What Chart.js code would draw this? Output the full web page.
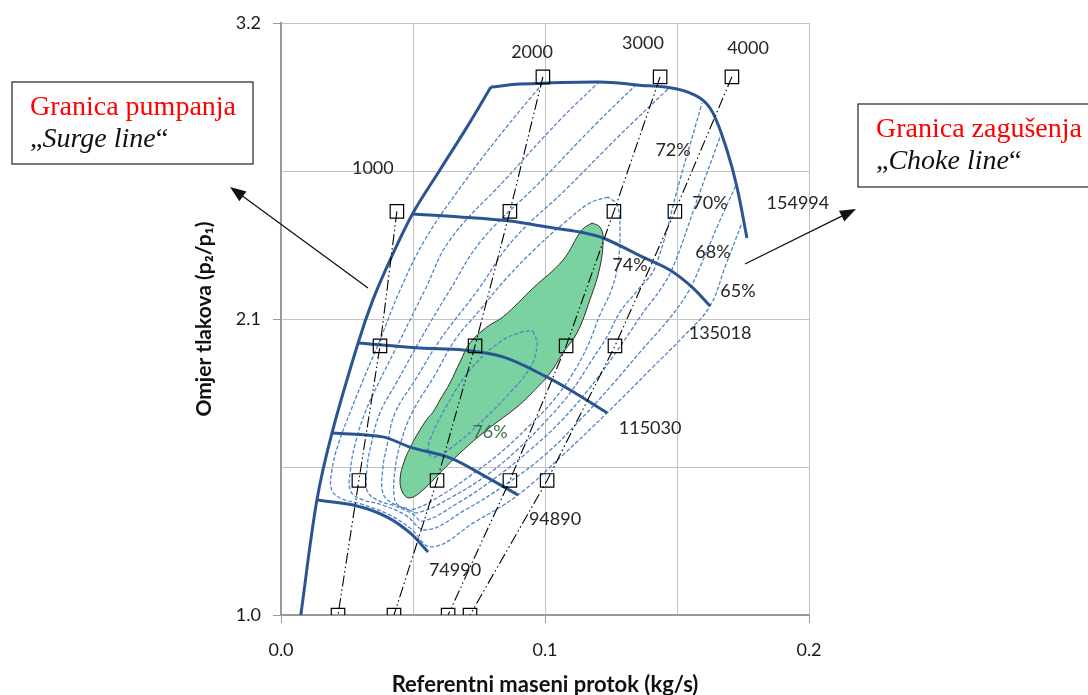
<!DOCTYPE html>
<html>
<head>
<meta charset="utf-8">
<script src="https://cdn.jsdelivr.net/npm/chart.js@4/dist/chart.umd.min.js"></script>
<style>
  html, body { margin: 0; padding: 0; background: #fff; }
</style>
</head>
<body>
<canvas id="map" width="1088" height="695"></canvas>
<script>
// osi
const xTicks = [0, 0.05, 0.1, 0.15, 0.2];
const xTickLabels = ['0.0', '', '0.1', '', '0.2'];
const yTicks = [1.0, 1.55, 2.1, 2.65, 3.2];
const yTickLabels = ['1.0', '', '2.1', '', '3.2'];

// granica pumpanja i linije konstantne brzine [protok kg/s, omjer tlakova]
const surgeLine = [[0.0075,1.000],[0.0136,1.427],[0.0193,1.676],[0.0292,2.011],[0.0348,2.171],[0.0413,2.319],[0.0500,2.494],[0.0602,2.654],[0.0705,2.814],[0.0795,2.962]];
const n154994 = [[0.0795,2.962],[0.0905,2.973],[0.1208,2.981],[0.1348,2.970],[0.1500,2.955],[0.1587,2.921],[0.1636,2.866],[0.1689,2.728],[0.1727,2.591],[0.1765,2.401]];
const n135018 = [[0.0500,2.490],[0.0678,2.479],[0.0867,2.464],[0.1008,2.442],[0.1133,2.423],[0.1220,2.401],[0.1371,2.330],[0.1473,2.282],[0.1561,2.215],[0.1625,2.148]];
const n115030 = [[0.0292,2.011],[0.0527,1.992],[0.0689,1.985],[0.0841,1.959],[0.1008,1.884],[0.1114,1.825],[0.1235,1.751]];
const n94890 = [[0.0197,1.676],[0.0386,1.662],[0.0489,1.624],[0.0640,1.584],[0.0765,1.520],[0.0898,1.446]];
const n74990 = [[0.0136,1.427],[0.0288,1.405],[0.0402,1.364],[0.0489,1.305],[0.0557,1.234]];

// linije s kvadratima
const line1000 = [[0.0439,2.5],[0.0375,2.0],[0.0295,1.5],[0.0216,1.0]];
const line2000 = [[0.0992,3.0],[0.0867,2.5],[0.0735,2.0],[0.0591,1.5],[0.0428,1.0]];
const line3000 = [[0.1436,3.0],[0.1261,2.5],[0.1080,2.0],[0.0867,1.5],[0.0633,1.0]];
const line4000 = [[0.1708,3.0],[0.1492,2.5],[0.1265,2.0],[0.1008,1.5],[0.0716,1.0]];

// izolinije korisnosti
const eff65 = [[0.0992,2.977],[0.0830,2.784],[0.0678,2.587],[0.0545,2.394],[0.0451,2.208],[0.0375,2.022],[0.0311,1.873],[0.0261,1.751],[0.0216,1.632],[0.0193,1.539],[0.0192,1.465],[0.0230,1.432],[0.0299,1.414],[0.0405,1.375],[0.0489,1.323],[0.0572,1.253],[0.0735,1.346],[0.0898,1.446],[0.1068,1.595],[0.1235,1.751],[0.1398,1.911],[0.1530,2.041],[0.1625,2.148],[0.1682,2.293],[0.1746,2.457]];
const eff68 = [[0.1208,2.984],[0.1057,2.840],[0.0848,2.617],[0.0640,2.394],[0.0545,2.208],[0.0451,2.022],[0.0375,1.873],[0.0318,1.751],[0.0280,1.632],[0.0263,1.539],[0.0263,1.462],[0.0305,1.430],[0.0380,1.410],[0.0470,1.372],[0.0549,1.316],[0.0697,1.390],[0.0848,1.483],[0.1000,1.595],[0.1133,1.725],[0.1254,1.855],[0.1360,1.977],[0.1473,2.104],[0.1542,2.200],[0.1587,2.293],[0.1655,2.449],[0.1727,2.605]];
const eff70 = [[0.1348,2.973],[0.1189,2.821],[0.0981,2.609],[0.0761,2.394],[0.0640,2.208],[0.0527,2.022],[0.0443,1.873],[0.0375,1.751],[0.0341,1.632],[0.0325,1.539],[0.0327,1.460],[0.0370,1.425],[0.0432,1.405],[0.0496,1.377],[0.0538,1.349],[0.0670,1.416],[0.0811,1.509],[0.0943,1.613],[0.1057,1.717],[0.1163,1.836],[0.1254,1.955],[0.1322,2.052],[0.1379,2.134],[0.1436,2.208],[0.1485,2.293],[0.1576,2.542],[0.1663,2.776]];
const eff72 = [[0.1466,2.955],[0.1284,2.784],[0.1076,2.579],[0.0879,2.394],[0.0746,2.208],[0.0602,2.022],[0.0508,1.873],[0.0432,1.751],[0.0402,1.632],[0.0385,1.539],[0.0387,1.450],[0.0425,1.414],[0.0475,1.396],[0.0519,1.380],[0.0648,1.439],[0.0780,1.520],[0.0894,1.613],[0.1000,1.717],[0.1095,1.825],[0.1178,1.948],[0.1239,2.041],[0.1284,2.126],[0.1352,2.208],[0.1417,2.293],[0.1511,2.617],[0.1595,2.903]];
const eff74 = [[0.1239,2.553],[0.1170,2.531],[0.1076,2.460],[0.0970,2.368],[0.0848,2.245],[0.0754,2.134],[0.0659,2.022],[0.0583,1.892],[0.0496,1.751],[0.0451,1.632],[0.0432,1.539],[0.0428,1.446],[0.0443,1.409],[0.0496,1.392],[0.0602,1.442],[0.0716,1.517],[0.0830,1.602],[0.0932,1.695],[0.1027,1.792],[0.1102,1.892],[0.1163,2.003],[0.1208,2.115],[0.1254,2.215],[0.1277,2.312],[0.1284,2.431],[0.1273,2.524],[0.1239,2.553]];
const eff77 = [[0.0955,2.055],[0.0970,2.003],[0.0943,1.918],[0.0848,1.806],[0.0746,1.706],[0.0659,1.632],[0.0583,1.587],[0.0557,1.606],[0.0572,1.669],[0.0629,1.780],[0.0716,1.911],[0.0830,2.015],[0.0913,2.052],[0.0955,2.055]];
// podrucje 76 %
const zone76 = [[0.1178,2.457],[0.1208,2.442],[0.1220,2.401],[0.1208,2.293],[0.1170,2.171],[0.1121,2.048],[0.1068,1.974],[0.1019,1.899],[0.0943,1.818],[0.0894,1.773],[0.0780,1.688],[0.0678,1.602],[0.0602,1.528],[0.0538,1.465],[0.0489,1.435],[0.0462,1.453],[0.0451,1.502],[0.0466,1.569],[0.0489,1.621],[0.0515,1.669],[0.0553,1.728],[0.0576,1.754],[0.0602,1.799],[0.0640,1.862],[0.0678,1.940],[0.0716,2.011],[0.0780,2.070],[0.0841,2.108],[0.0955,2.215],[0.1068,2.319],[0.1140,2.431],[0.1178,2.457]];

// natpisi na dijagramu [tekst, protok, omjer]
const mapLabels = [
  ['1000', 0.0348, 2.661], ['2000', 0.0951, 3.092], ['3000', 0.1371, 3.126], ['4000', 0.1769, 3.107],
  ['154994', 0.1958, 2.531], ['135018', 0.1663, 2.048], ['115030', 0.1398, 1.695],
  ['94890', 0.1038, 1.357], ['74990', 0.0659, 1.167],
  ['72%', 0.1485, 2.728], ['70%', 0.1625, 2.531], ['68%', 0.1636, 2.349], ['65%', 0.1731, 2.204],
  ['74%', 0.1322, 2.301], ['76%', 0.0792, 1.680]
];

const pts = arr => arr.map(([x, y]) => ({x, y}));

function speedSet(arr) {
  return { data: pts(arr), borderColor: '#2b5592', borderWidth: 3, pointRadius: 0, tension: 0.35 };
}
function effSet(arr) {
  return { data: pts(arr), borderColor: '#5283c9', borderWidth: 1.3, borderDash: [4, 2], pointRadius: 0, tension: 0.4 };
}
function markSet(arr) {
  return {
    data: pts(arr), borderColor: '#000', borderWidth: 1.1, borderDash: [11, 3, 1.5, 3, 1.5, 3],
    pointStyle: 'rect', pointRadius: 9.5, pointBorderWidth: 1.2,
    pointBorderColor: '#000', pointBackgroundColor: 'rgba(0,0,0,0)', tension: 0
  };
}

const datasets = [
  markSet(line1000), markSet(line2000), markSet(line3000), markSet(line4000),
  speedSet(surgeLine), speedSet(n154994), speedSet(n135018), speedSet(n115030), speedSet(n94890), speedSet(n74990),
  effSet(eff65), effSet(eff68), effSet(eff70), effSet(eff72), effSet(eff74), effSet(eff77),
  { data: pts(zone76), borderColor: '#2f2f2f', borderWidth: 1, pointRadius: 0, tension: 0.4 }
];
const zoneIndex = datasets.length - 1;

// zeleno podrucje ispunjeno ispod ostalih linija
const zoneFill = {
  id: 'zoneFill',
  beforeDatasetDraw(chart, args) {
    if (args.index !== zoneIndex) return;
    const line = args.meta.dataset;
    const ctx = chart.ctx;
    ctx.save();
    ctx.beginPath();
    if (typeof line.path === 'function') {
      line.updateControlPoints(chart.chartArea, 'x');
      line.path(ctx);
    } else {
      args.meta.data.forEach((p, i) => i ? ctx.lineTo(p.x, p.y) : ctx.moveTo(p.x, p.y));
    }
    ctx.closePath();
    ctx.fillStyle = '#7ad2a0';
    ctx.fill();
    ctx.restore();
  }
};

const textLabels = {
  id: 'textLabels',
  afterDatasetsDraw(chart) {
    const {ctx, scales: {x, y}} = chart;
    ctx.save();
    ctx.font = '18px Lato';
    ctx.textAlign = 'center';
    ctx.textBaseline = 'middle';
    mapLabels.forEach(([t, vx, vy]) => {
      ctx.fillStyle = t === '76%' ? '#3d6f58' : '#262626';
      ctx.fillText(t, x.getPixelForValue(vx), y.getPixelForValue(vy));
    });
    ctx.restore();
  }
};

function arrow(ctx, x1, y1, x2, y2) {
  const a = Math.atan2(y2 - y1, x2 - x1);
  ctx.beginPath();
  ctx.moveTo(x1, y1);
  ctx.lineTo(x2 - 12 * Math.cos(a), y2 - 12 * Math.sin(a));
  ctx.stroke();
  ctx.beginPath();
  ctx.moveTo(x2, y2);
  ctx.lineTo(x2 - 16 * Math.cos(a) + 6 * Math.sin(a), y2 - 16 * Math.sin(a) - 6 * Math.cos(a));
  ctx.lineTo(x2 - 16 * Math.cos(a) - 6 * Math.sin(a), y2 - 16 * Math.sin(a) + 6 * Math.cos(a));
  ctx.closePath();
  ctx.fill();
}

function noteBox(ctx, bx, by, bw, bh, title, name) {
  ctx.strokeStyle = '#222';
  ctx.lineWidth = 1.2;
  ctx.strokeRect(bx, by, bw, bh);
  const tx = bx + 18;
  ctx.textAlign = 'left';
  ctx.textBaseline = 'alphabetic';
  ctx.font = '28px "Liberation Serif"';
  ctx.fillStyle = '#ff0000';
  ctx.fillText(title, tx, by + 33);
  ctx.fillStyle = '#111';
  let cx = tx;
  const ly = by + 65;
  ctx.fillText('\u201E', cx, ly);
  cx += ctx.measureText('\u201E').width;
  ctx.font = 'italic 28px "Liberation Serif"';
  ctx.fillText(name, cx, ly);
  cx += ctx.measureText(name).width;
  ctx.font = '28px "Liberation Serif"';
  ctx.fillText('\u201C', cx, ly);
}

const notes = {
  id: 'notes',
  afterDraw(chart) {
    const ctx = chart.ctx;
    ctx.save();
    noteBox(ctx, 12, 82, 241, 82, 'Granica pumpanja', 'Surge line');
    noteBox(ctx, 858, 104, 240, 83, 'Granica zagu\u0161enja', 'Choke line');
    ctx.strokeStyle = '#111';
    ctx.fillStyle = '#111';
    ctx.lineWidth = 1.3;
    arrow(ctx, 368, 288, 230, 187);
    arrow(ctx, 745, 264, 856, 209);
    ctx.restore();
  }
};

new Chart(document.getElementById('map'), {
  type: 'line',
  data: { datasets },
  plugins: [zoneFill, textLabels, notes],
  options: {
    responsive: false,
    animation: false,
    layout: { padding: { left: 188, right: 279, top: 23, bottom: 0 } },
    plugins: { legend: { display: false }, tooltip: { enabled: false } },
    scales: {
      x: {
        type: 'linear', min: 0, max: 0.2,
        afterBuildTicks: s => { s.ticks = xTicks.map(v => ({value: v})); },
        afterFit: s => { s.height = 80; },
        ticks: { callback: (v, i) => xTickLabels[i], font: { family: 'Lato', size: 18 }, color: '#1a1a1a', padding: 16, maxRotation: 0, autoSkip: false },
        grid: { color: '#c4c4c4', lineWidth: 1, tickLength: 8, tickColor: c => xTickLabels[c.index] ? '#999' : 'rgba(0,0,0,0)' },
        border: { color: '#999', width: 2 },
        title: { display: true, text: 'Referentni maseni protok (kg/s)', font: { family: 'Lato', size: 22, weight: 'bold' }, color: '#111', padding: { top: 0, bottom: -3 } }
      },
      y: {
        type: 'linear', min: 1.0, max: 3.2,
        afterBuildTicks: s => { s.ticks = yTicks.map(v => ({value: v})); },
        afterFit: s => { s.width = 93; },
        ticks: { callback: (v, i) => yTickLabels[i], font: { family: 'Lato', size: 18 }, color: '#1a1a1a', padding: 12, autoSkip: false },
        grid: { color: '#c4c4c4', lineWidth: 1, tickLength: 8, tickColor: c => yTickLabels[c.index] ? '#999' : 'rgba(0,0,0,0)' },
        border: { color: '#999', width: 2 },
        title: { display: true, text: 'Omjer tlakova (p\u2082/p\u2081)', font: { family: 'Lato', size: 21, weight: 'bold' }, color: '#111', padding: { top: 4, bottom: 4 } }
      }
    }
  }
});
</script>
</body>
</html>
